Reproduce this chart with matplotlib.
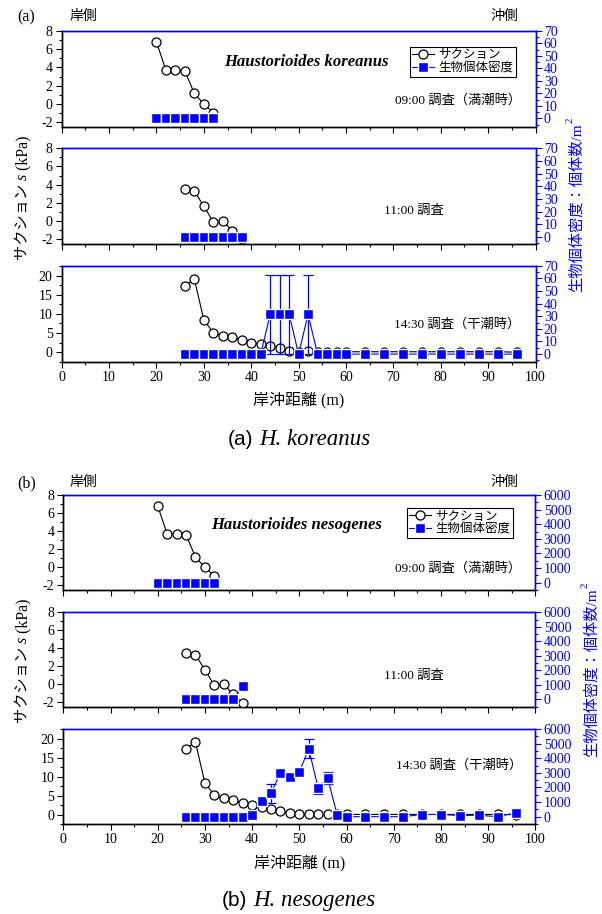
import numpy as np
import matplotlib.pyplot as plt
from matplotlib.ticker import MultipleLocator

plt.rcParams['font.family'] = ['Liberation Serif', 'Noto Sans CJK JP']
plt.rcParams['axes.unicode_minus'] = False

W, H = 602, 914

# survey positions (m)
x_hi = [20, 22, 24, 26, 28, 30, 32]
x_mid = [26, 28, 30, 32, 34, 36, 38]
x_low = [26, 28, 30, 32, 34, 36, 38, 40, 42, 44, 46, 48, 50, 52, 54, 56, 58, 60,
         64, 68, 72, 76, 80, 84, 88, 92, 96]

# suction s (kPa)
s_hi = [6.8, 3.7, 3.7, 3.6, 1.15, 0.0, -0.95]
s_mid = [3.5, 3.3, 1.6, -0.1, 0.0, -1.1, -2.05]
s_low = [17.4, 19.1, 8.4, 5.1, 4.3, 4.0, 3.1, 2.5, 2.0, 1.6, 1.0, 0.4, 0.1, 0.2, 0.1, 0.1, 0.1, 0.1,
         0.1, 0.1, 0.1, 0.1, 0.1, 0.1, 0.1, 0.1, 0.0]

# H. koreanus density (ind./m2)
dk_hi = [0, 0, 0, 0, 0, 0, 0]
dk_mid = [0, 0, 0, 0, 0, 0, 0]
dk_low = [0, 0, 0, 0, 0, 0, 0, 0, 0, 31.5, 31.5, 31.5, 0, 31.5, 0, 0, 0, 0,
          0, 0, 0, 0, 0, 0, 0, 0, 0]
ek_low = [0, 0, 0, 0, 0, 0, 0, 0, 0, 31.5, 31.5, 31.5, 0, 31.5, 0, 0, 0, 0,
          0, 0, 0, 0, 0, 0, 0, 0, 0]

# H. nesogenes density (ind./m2)
dn_hi = [0, 0, 0, 0, 0, 0, 0]
dn_mid = [0, 0, 0, 0, 0, 0, 900]
dn_low = [0, 0, 0, 0, 0, 0, 0, 150, 1100, 1600, 3000, 2700, 3050, 4650, 1950, 2650, 150, 0,
          0, 0, 0, 150, 150, 80, 100, 0, 280]
en_low = [0, 0, 0, 0, 0, 0, 0, 60, 250, 650, 250, 230, 150, 650, 380, 400, 0, 0,
          0, 0, 0, 0, 0, 0, 0, 0, 0]

fig = plt.figure(figsize=(6.02, 9.14), dpi=100)


def fpos(x, y):
    return x / W, 1 - y / H


def panel(box, x, s, d, err, llim, lstep, rlim, rstep, xlabels):
    l, t, r, b = box
    ax = fig.add_axes([l / W, 1 - b / H, (r - l) / W, (b - t) / H])
    ax2 = ax.twinx()
    ax.plot(x, s, '-o', color='black', lw=0.8, ms=6.5, mfc='white', mec='black', mew=0.9,
            label='サクション', zorder=3)
    ax2.plot(x, d, '-s', color='blue', lw=0.8, ms=6.6, mfc='blue', mec='white', mew=1.0,
             label='生物個体密度')
    if err is not None:
        x_e = [xi for xi, e in zip(x, err) if e > 0]
        d_e = [di for di, e in zip(d, err) if e > 0]
        e_e = [e for e in err if e > 0]
        ax2.errorbar(x_e, d_e, yerr=e_e, fmt='none', ecolor='blue', elinewidth=0.9,
                     capsize=3.5, capthick=0.9, zorder=1)
    ax.set_xlim(0, 100)
    ax.set_ylim(*llim)
    ax2.set_ylim(*rlim)
    ax.xaxis.set_major_locator(MultipleLocator(10))
    ax.xaxis.set_minor_locator(MultipleLocator(5))
    ax.yaxis.set_major_locator(MultipleLocator(lstep))
    ax.yaxis.set_minor_locator(MultipleLocator(lstep / 2))
    ax2.yaxis.set_major_locator(MultipleLocator(rstep))
    ax2.yaxis.set_minor_locator(MultipleLocator(rstep / 2))
    ax.tick_params(axis='both', which='major', direction='out', length=4.5, width=0.8,
                   labelsize=10, pad=2)
    ax.tick_params(axis='both', which='minor', direction='out', length=2.5, width=0.8)
    ax.tick_params(axis='x', labelbottom=xlabels)
    ax2.tick_params(axis='y', which='major', direction='out', length=4, width=0.8,
                    colors='blue', labelsize=10, pad=2)
    ax2.tick_params(axis='y', which='minor', direction='out', length=2.5, width=0.8, colors='blue')
    for a in (ax, ax2):
        for sp in a.spines.values():
            sp.set_linewidth(1.0)
        a.spines['top'].set_color('blue')
        a.spines['right'].set_color('blue')
        a.spines['left'].set_color('black')
        a.spines['bottom'].set_color('black')
    return ax, ax2


def block(tops, left, right, dens, err, rlim, rstep, species, spc, leg_anchor, labels):
    axes = []
    d_hi, d_mid, d_low = dens
    r1, r2, r3 = rlim
    axes.append(panel((left, tops[0][0], right, tops[0][1]), x_hi, s_hi, d_hi, None,
                      (-2.5, 8), 2, r1, rstep, False))
    axes.append(panel((left, tops[1][0], right, tops[1][1]), x_mid, s_mid, d_mid, None,
                      (-2.55, 8), 2, r2, rstep, False))
    axes.append(panel((left, tops[2][0], right, tops[2][1]), x_low, s_low, d_low, err,
                      (-2.5, 22.6), 5, r3, rstep, True))
    ax, ax2 = axes[0]
    h1, l1 = ax.get_legend_handles_labels()
    h2, l2 = ax2.get_legend_handles_labels()
    leg = ax2.legend(h1 + h2, l1 + l2, loc='upper right', bbox_to_anchor=leg_anchor,
                     fontsize=9, frameon=True, fancybox=False, framealpha=1,
                     edgecolor='black', handlelength=1.7, handletextpad=0.4,
                     borderpad=0.2, labelspacing=0.1, borderaxespad=0)
    leg.get_frame().set_linewidth(0.8)
    ax.text(spc[0], spc[1], species, transform=fig.transFigure, ha='center', va='center',
            fontsize=12, fontweight='bold', fontstyle='italic', family='Liberation Serif')
    ax3 = axes[2][0]
    ax3.set_xlabel('岸沖距離 (m)', fontsize=11.5, labelpad=6)
    for txt, xy, ha in labels:
        fig.text(*fpos(*xy), txt, ha=ha, va='center', fontsize=9.5)
    return axes


block([(31, 126.7), (148.3, 244), (265.7, 361.7)], 61.7, 535.5,
      (dk_hi, dk_mid, dk_low), ek_low, [(-6.7, 70), (-5.5, 70), (-6, 70)], 10,
      'Haustorioides koreanus', fpos(306.5, 62), (0.959, 0.833),
      [('09:00 調査（満潮時）', (521.5, 100), 'right'),
       ('11:00 調査', (384, 211), 'left'),
       ('14:30 調査（干潮時）', (520.5, 324), 'right')])

block([(495, 590), (612.3, 707.3), (729, 824.3)], 63.3, 535.3,
      (dn_hi, dn_mid, dn_low), en_low, [(-500, 6000), (-550, 6000), (-520, 6000)], 1000,
      'Haustorioides nesogenes', fpos(297, 525), (0.953, 0.863),
      [('09:00 調査（満潮時）', (521.5, 568), 'right'),
       ('11:00 調査', (384, 676), 'left'),
       ('14:30 調査（干潮時）', (522, 765), 'right')])

# header texts
for yy, tag in ((17, '(a)'), (483, '(b)')):
    fig.text(*fpos(17, yy), tag, ha='left', va='center', fontsize=11.5)
    fig.text(*fpos(70, yy - 1), '岸側', ha='left', va='center', fontsize=10)
    fig.text(*fpos(518, yy - 1), '沖側', ha='right', va='center', fontsize=10)

renderer = fig.canvas.get_renderer()


def rotated_pieces(x, y_bottom, pieces, color):
    y = y_bottom
    for txt, kw in pieces:
        t = fig.text(x / W, y / H, txt, rotation=90, rotation_mode='anchor', ha='left',
                     va='baseline', color=color, **kw)
        bb = t.get_window_extent(renderer)
        y = bb.y1


# left axis label (pixel coords measured from bottom)
for yb in (H - 260, H - 723):
    rotated_pieces(27, yb, [('サクション ', dict(fontsize=11)),
                            ('s', dict(fontsize=11.5, fontstyle='italic', family='Liberation Serif')),
                            (' (kPa)', dict(fontsize=11.5))], 'black')

# right axis label
for xb, yb in ((581, H - 292), (596, H - 757)):
    t = fig.text(xb / W, yb / H, '生物個体密度：個体数/m', rotation=90, rotation_mode='anchor',
                 ha='left', va='baseline', color='blue', fontsize=11)
    bb = t.get_window_extent(renderer)
    fig.text((xb - 8) / W, bb.y1 / H, '2', rotation=90, rotation_mode='anchor', ha='left',
             va='baseline', color='blue', fontsize=8)

# captions
for yb, name in ((H - 445, 'H. koreanus'), (H - 906, 'H. nesogenes')):
    x0 = 228 if name == 'H. koreanus' else 222
    t = fig.text(x0 / W, yb / H, '(a)' if 'kor' in name else '(b)', ha='left', va='baseline',
                 fontsize=15, family='Liberation Sans')
    bb = t.get_window_extent(renderer)
    fig.text((bb.x1 + 6) / W, yb / H, name, ha='left', va='baseline', fontsize=16.5,
             fontstyle='italic', family='Liberation Serif')

fig.savefig('out.png', dpi=100)
